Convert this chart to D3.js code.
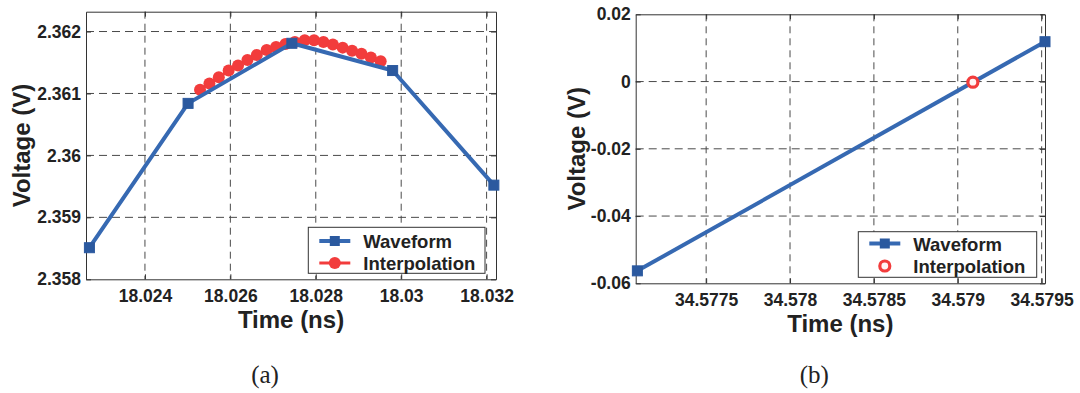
<!DOCTYPE html>
<html>
<head>
<meta charset="utf-8">
<script src="https://cdn.jsdelivr.net/npm/d3@7"></script>
<style>
  html, body { margin: 0; padding: 0; background: #ffffff; }
  svg { display: block; }
  .tick text { font-family: "Liberation Sans", Arimo, Arial, Helvetica, sans-serif; font-weight: bold; font-size: 17.5px; fill: #222; }
  .tick line { stroke: #333; stroke-width: 1; }
  .domain { stroke: #333; stroke-width: 1; }
  .axis-title { font-family: "Liberation Sans", Arimo, Arial, Helvetica, sans-serif; font-weight: bold; font-size: 24px; fill: #222; }
  .legend-text { font-family: "Liberation Sans", Arimo, Arial, Helvetica, sans-serif; font-weight: bold; font-size: 18.5px; fill: #222; }
  .panel-label { font-family: "Liberation Serif", Tinos, "Times New Roman", Times, "DejaVu Serif", serif; font-size: 25px; fill: #222; }
</style>
</head>
<body>
<script>
// ---- Panel (a): peak region of the waveform, with interpolated samples ----
const waveA_t = [18.0227, 18.02501, 18.02744, 18.0298, 18.03217];
const waveA_v = [2.35851, 2.36084, 2.36181, 2.36137, 2.35952];

const interpA_t = [18.02529, 18.02551, 18.02573, 18.02596, 18.02618, 18.02640, 18.02662,
                   18.02685, 18.02707, 18.02729, 18.02751, 18.02774, 18.02796, 18.02818,
                   18.02840, 18.02863, 18.02885, 18.02907, 18.02929, 18.02952];
const interpA_v = [2.36106, 2.36116, 2.36126, 2.36137, 2.36145, 2.36154, 2.36162,
                   2.36170, 2.36175, 2.36180, 2.36183, 2.36186, 2.36186, 2.36183,
                   2.36179, 2.36174, 2.36169, 2.36164, 2.36158, 2.36152];

const ticksA_x = [18.024, 18.026, 18.028, 18.03, 18.032];
const ticksA_xLabels = ["18.024", "18.026", "18.028", "18.03", "18.032"];
const ticksA_y = [2.358, 2.359, 2.36, 2.361, 2.362];
const ticksA_yLabels = ["2.358", "2.359", "2.36", "2.361", "2.362"];

// ---- Panel (b): zero crossing of the waveform ----
const waveB_t = [34.57709, 34.57952];
const waveB_v = [-0.0563, 0.01185];

const interpB_t = [34.57909];
const interpB_v = [-0.0002];

const ticksB_x = [34.5775, 34.578, 34.5785, 34.579, 34.5795];
const ticksB_xLabels = ["34.5775", "34.578", "34.5785", "34.579", "34.5795"];
const ticksB_y = [-0.06, -0.04, -0.02, 0, 0.02];
const ticksB_yLabels = ["-0.06", "-0.04", "-0.02", "0", "0.02"];

const seriesNames = ["Waveform", "Interpolation"];
const panelLabels = ["(a)", "(b)"];

const BLUE = "#3669b2";
const BLUE_MARK = "#2b599f";
const RED = "#f23c3c";
const GRID = "#4a4a4a";

const svg = d3.select("body").append("svg")
  .attr("width", 1080).attr("height", 393);

function drawPanel(cfg) {
  const x = d3.scaleLinear().domain(cfg.xDomain).range([cfg.left, cfg.right]);
  const y = d3.scaleLinear().domain(cfg.yDomain).range([cfg.bottom, cfg.top]);
  const g = svg.append("g");

  // white plot background
  g.append("rect")
    .attr("x", cfg.left).attr("y", cfg.top)
    .attr("width", cfg.right - cfg.left).attr("height", cfg.bottom - cfg.top)
    .attr("fill", "#fff");

  // dashed grid
  g.append("g").selectAll("line").data(cfg.xTicks).join("line")
    .attr("x1", d => x(d)).attr("x2", d => x(d))
    .attr("y1", cfg.top).attr("y2", cfg.bottom)
    .attr("stroke", GRID).attr("stroke-width", 1).attr("stroke-dasharray", "7,5");
  g.append("g").selectAll("line").data(cfg.yTicks.filter(d => y(d) > cfg.top + 1 && y(d) < cfg.bottom - 1)).join("line")
    .attr("x1", cfg.left).attr("x2", cfg.right)
    .attr("y1", d => y(d)).attr("y2", d => y(d))
    .attr("stroke", GRID).attr("stroke-width", 1).attr("stroke-dasharray", "8,5");

  // axes with inward ticks on all four sides
  g.append("g").attr("transform", `translate(0,${cfg.bottom})`)
    .call(d3.axisBottom(x).tickValues(cfg.xTicks)
      .tickFormat((d, i) => cfg.xLabels[i]).tickSize(-5).tickSizeOuter(0).tickPadding(10));
  g.append("g").attr("transform", `translate(${cfg.left},0)`)
    .call(d3.axisLeft(y).tickValues(cfg.yTicks)
      .tickFormat((d, i) => cfg.yLabels[i]).tickSize(-5).tickSizeOuter(0).tickPadding(5));
  g.append("g").attr("transform", `translate(0,${cfg.top})`)
    .call(d3.axisTop(x).tickValues(cfg.xTicks).tickFormat("").tickSize(-5).tickSizeOuter(0));
  g.append("g").attr("transform", `translate(${cfg.right},0)`)
    .call(d3.axisRight(y).tickValues(cfg.yTicks).tickFormat("").tickSize(-5).tickSizeOuter(0));
  g.selectAll("g").attr("font-family", null).attr("font-size", null);
  g.selectAll(".tick text").attr("fill", null);
  g.selectAll(".domain").attr("stroke", null);
  g.selectAll(".tick line").attr("stroke", null);

  const line = d3.line().x(d => x(d[0])).y(d => y(d[1]));
  const wave = cfg.waveT.map((t, i) => [t, cfg.waveV[i]]);
  const interp = cfg.interpT.map((t, i) => [t, cfg.interpV[i]]);

  const drawInterp = () => {
    if (cfg.interpLine) {
      g.append("path").datum(interp).attr("d", line)
        .attr("fill", "none").attr("stroke", RED).attr("stroke-width", 3);
      g.append("g").selectAll("circle").data(interp).join("circle")
        .attr("cx", d => x(d[0])).attr("cy", d => y(d[1])).attr("r", 6)
        .attr("fill", RED);
    } else {
      g.append("g").selectAll("circle").data(interp).join("circle")
        .attr("cx", d => x(d[0])).attr("cy", d => y(d[1])).attr("r", 5)
        .attr("fill", "#fff4f4").attr("stroke", RED).attr("stroke-width", 3.2);
    }
  };
  const drawWave = () => {
    g.append("path").datum(wave).attr("d", line)
      .attr("fill", "none").attr("stroke", BLUE).attr("stroke-width", 4)
      .attr("stroke-linejoin", "round");
    g.append("g").selectAll("rect").data(wave).join("rect")
      .attr("x", d => x(d[0]) - 5).attr("y", d => y(d[1]) - 5)
      .attr("width", 10).attr("height", 10)
      .attr("fill", BLUE_MARK).attr("stroke", BLUE_MARK).attr("stroke-width", 1);
  };
  if (cfg.interpLine) { drawInterp(); drawWave(); } else { drawWave(); drawInterp(); }

  // axis titles
  g.append("text").attr("class", "axis-title")
    .attr("x", (cfg.left + cfg.right) / 2).attr("y", cfg.bottom + 49)
    .attr("text-anchor", "middle").text("Time (ns)");
  g.append("text").attr("class", "axis-title")
    .attr("transform", `translate(${cfg.yTitleX},${(cfg.top + cfg.bottom) / 2}) rotate(-90)`)
    .attr("text-anchor", "middle").text("Voltage (V)");

  // legend
  const L = cfg.legend;
  const lg = g.append("g");
  lg.append("rect").attr("x", L.x0).attr("y", L.y0)
    .attr("width", L.x1 - L.x0).attr("height", L.y1 - L.y0)
    .attr("fill", "#fff").attr("stroke", "#333").attr("stroke-width", 1);
  const sx0 = L.x0 + 11, sx1 = L.x0 + 42, sxm = (sx0 + sx1) / 2;
  lg.append("line").attr("x1", sx0).attr("x2", sx1).attr("y1", L.row1).attr("y2", L.row1)
    .attr("stroke", BLUE).attr("stroke-width", 4);
  lg.append("rect").attr("x", sxm - 5).attr("y", L.row1 - 5).attr("width", 10).attr("height", 10)
    .attr("fill", BLUE_MARK);
  if (cfg.interpLine) {
    lg.append("line").attr("x1", sx0).attr("x2", sx1).attr("y1", L.row2).attr("y2", L.row2)
      .attr("stroke", RED).attr("stroke-width", 3);
    lg.append("circle").attr("cx", sxm).attr("cy", L.row2).attr("r", 6).attr("fill", RED);
  } else {
    lg.append("circle").attr("cx", sxm).attr("cy", L.row2).attr("r", 5)
      .attr("fill", "#fff4f4").attr("stroke", RED).attr("stroke-width", 3.2);
  }
  lg.append("text").attr("class", "legend-text").attr("x", L.x0 + 55).attr("y", L.row1 + 7).text(seriesNames[0]);
  lg.append("text").attr("class", "legend-text").attr("x", L.x0 + 55).attr("y", L.row2 + 7).text(seriesNames[1]);

  // panel label
  svg.append("text").attr("class", "panel-label")
    .attr("x", (cfg.left + cfg.right) / 2 - 26).attr("y", 383)
    .attr("text-anchor", "middle").text(cfg.label);
}

drawPanel({
  left: 86, right: 496, top: 11.7, bottom: 279.3,
  xDomain: [18.02262, 18.03222], yDomain: [2.358, 2.36232],
  xTicks: ticksA_x, xLabels: ticksA_xLabels, yTicks: ticksA_y, yLabels: ticksA_yLabels,
  waveT: waveA_t, waveV: waveA_v, interpT: interpA_t, interpV: interpA_v,
  interpLine: true, yTitleX: 29.5,
  legend: { x0: 308.3, x1: 485, y0: 227.3, y1: 273.3, row1: 241, row2: 263 },
  label: panelLabels[0]
});

drawPanel({
  left: 635.7, right: 1045, top: 14.3, bottom: 283.3,
  xDomain: [34.57708, 34.57952], yDomain: [-0.06, 0.02],
  xTicks: ticksB_x, xLabels: ticksB_xLabels, yTicks: ticksB_y, yLabels: ticksB_yLabels,
  waveT: waveB_t, waveV: waveB_v, interpT: interpB_t, interpV: interpB_v,
  interpLine: false, yTitleX: 585,
  legend: { x0: 858.3, x1: 1036.7, y0: 231.7, y1: 277.3, row1: 243.5, row2: 266 },
  label: panelLabels[1]
});
</script>
</body>
</html>
